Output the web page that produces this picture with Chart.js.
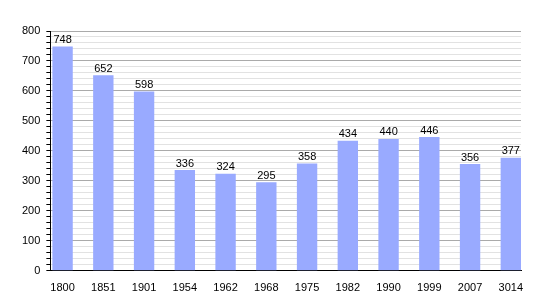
<!DOCTYPE html>
<html>
<head>
<meta charset="utf-8">
<script src="https://cdn.jsdelivr.net/npm/chart.js@4/dist/chart.umd.min.js"></script>
<style>
  html, body { margin: 0; padding: 0; background: #fff; }
  #wrap { width: 550px; height: 300px; }
</style>
</head>
<body>
<div id="wrap"><canvas id="grafico"></canvas></div>
<script>
const años = ['1800', '1851', '1901', '1954', '1962', '1968', '1975', '1982', '1990', '1999', '2007', '3014'];
const habitantes = [748, 652, 598, 336, 324, 295, 358, 434, 440, 446, 356, 377];
const ticksY = [0, 100, 200, 300, 400, 500, 600, 700, 800];

const fuente = "'Liberation Sans', Arial, sans-serif";

// etiquetas encima de cada barra
const etiquetas = {
  id: 'etiquetas',
  afterDatasetsDraw(chart) {
    const ctx = chart.ctx;
    const meta = chart.getDatasetMeta(0);
    ctx.save();
    ctx.font = '11px ' + fuente;
    ctx.fillStyle = '#000';
    ctx.textAlign = 'center';
    ctx.textBaseline = 'bottom';
    meta.data.forEach((barra, i) => {
      ctx.fillText(String(habitantes[i]), barra.x, barra.y - 1);
    });
    ctx.restore();
  }
};

new Chart(document.getElementById('grafico'), {
  type: 'bar',
  data: {
    datasets: [{
      data: habitantes.map((v, i) => ({ x: i, y: v })),
      backgroundColor: '#99aaff',
      borderWidth: 0,
      barPercentage: 0.5,
      categoryPercentage: 1
    }]
  },
  options: {
    responsive: true,
    maintainAspectRatio: false,
    animation: false,
    layout: { padding: { left: 16, right: 29, top: 31, bottom: 2 } },
    plugins: { legend: { display: false }, tooltip: { enabled: false } },
    scales: {
      x: {
        type: 'linear',
        offset: false,
        min: -0.3,
        max: 11.25,
        afterBuildTicks: axis => { axis.ticks = años.map((_, i) => ({ value: i })); },
        ticks: {
          callback: v => años[v],
          color: '#000',
          font: { family: fuente, size: 11 },
          padding: 3,
          maxRotation: 0,
          autoSkip: false
        },
        grid: { display: false },
        border: { display: true, color: '#000', width: 1 }
      },
      y: {
        min: 0,
        max: 800,
        ticks: {
          stepSize: 20,
          callback: v => ticksY.includes(v) ? String(v) : '',
          color: '#000',
          font: { family: fuente, size: 11 },
          padding: 6,
          autoSkip: false
        },
        grid: {
          color: c => c.tick.value % 100 === 0 ? '#aaaaaa' : '#e2e2e2',
          tickColor: '#000',
          tickLength: 4,
          lineWidth: 1
        },
        border: { display: true, color: '#000', width: 1 }
      }
    }
  },
  plugins: [etiquetas]
});
</script>
</body>
</html>
